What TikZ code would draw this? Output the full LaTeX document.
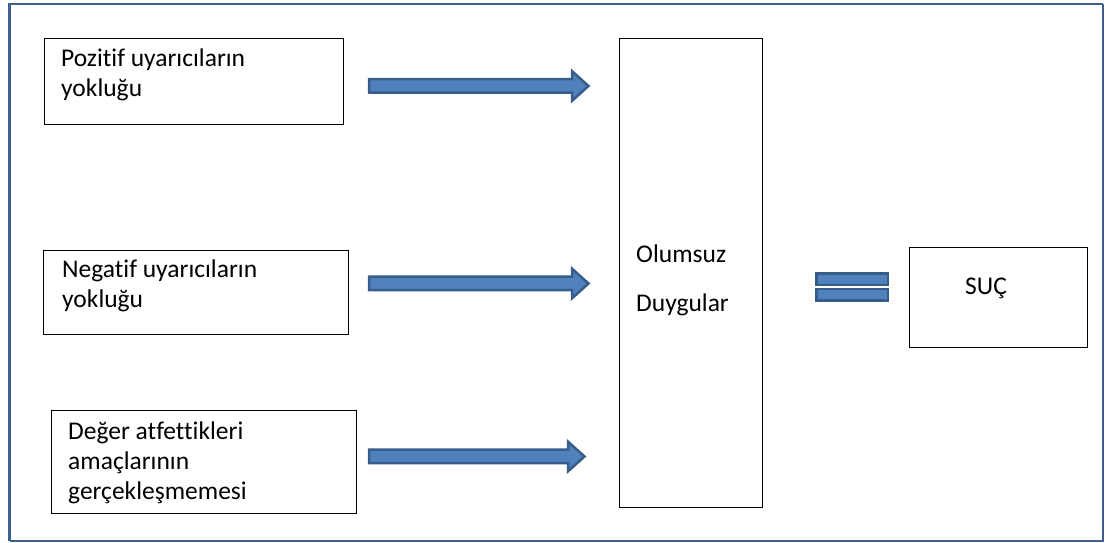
\documentclass[tikz,border=0pt]{standalone}
\usepackage{fontspec}
\setmainfont{Carlito}[Ligatures=NoCommon]
\usetikzlibrary{shapes.arrows}
\definecolor{frameblue}{HTML}{3F5F8E}
\definecolor{arrowfill}{HTML}{4F81BD}
\definecolor{arrowline}{HTML}{385D8A}
\begin{document}
\begin{tikzpicture}[
          x=1pt, y=1pt,
          box/.style={draw=black, line width=0.9pt, inner sep=0pt},
          txt/.style={inner sep=0pt, align=left, anchor=base west,
            font=\fontsize{25.5}{30}\selectfont},
          fatarrow/.style={single arrow, fill=arrowfill, draw=arrowline,
            line width=2.5pt, inner xsep=0pt, inner ysep=5.5pt,
            single arrow head extend=8pt, single arrow tip angle=84},
          eqbar/.style={fill=arrowfill, draw=arrowline, line width=2.5pt,
            minimum width=71.5pt, minimum height=11.5pt, inner sep=0pt}
        ]
        \useasboundingbox (0,0) rectangle (1105,543);
        % frame
        \draw[frameblue, line width=1.5pt] (9.5,2) -- (1103,2) -- (1103,539);
        \draw[frameblue, line width=2.5pt] (9.5,539) -- (1103,539);
        \draw[frameblue, line width=3pt] (9.5,2) -- (9.5,540);
        % boxes
        \node[box, minimum width=299pt, minimum height=86pt] (pos) at (193.5,462) {};
        \node[box, minimum width=305pt, minimum height=84pt] (neg) at (195.5,251) {};
        \node[box, minimum width=305pt, minimum height=103pt] (deg) at (203.5,81.5) {};
        \node[box, minimum width=143pt, minimum height=469pt] (duy) at (690.5,270.5) {};
        \node[box, minimum width=178pt, minimum height=100pt] (suc) at (998,246) {};
        % texts (anchored on the last line)
        \node[txt] (posT) at (61,446) {Pozitif uyarıcıların\\yokluğu};
        \node[txt] (negT) at (62,235) {Negatif uyarıcıların\\yokluğu};
        \node[txt] (degT) at (68,43) {Değer atfettikleri\\amaçlarının\\gerçekleşmemesi};
        \node[txt] (duyT) at (636,231) {Olumsuz\\[19pt]Duygular};
        \node[txt] (sucT) at (965,248) {SUÇ};
        % arrows
        \node[fatarrow, minimum height=219.5pt] (arrA) at (475,457) {};
        \node[fatarrow, minimum height=219.5pt] (arrB) at (475,259.5) {};
        \node[fatarrow, minimum height=215.5pt] (arrC) at (473,86.5) {};
        \node[eqbar] (eqA) at (852,263.5) {};
        \node[eqbar] (eqB) at (852,248) {};
        \end{tikzpicture}
\end{document}
